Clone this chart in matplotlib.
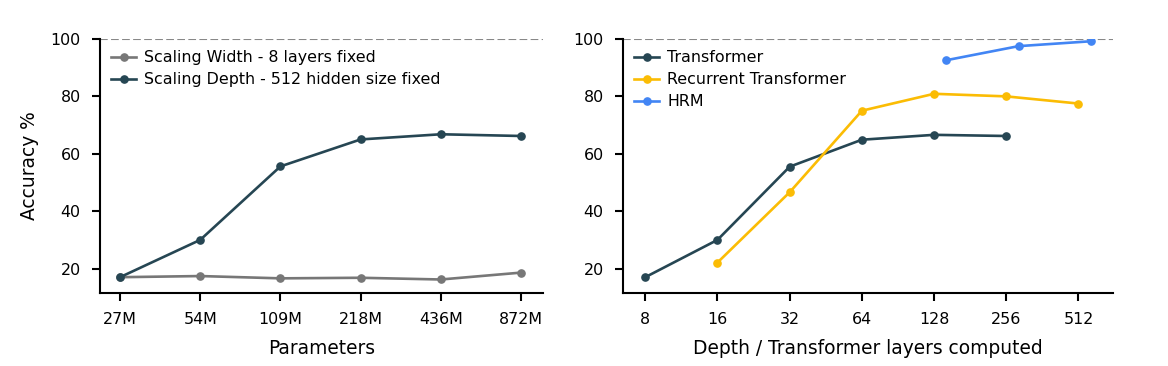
"""
Accuracy vs. parameters (width/depth scaling) and vs. computed depth.
"""

import matplotlib.pyplot as plt
import numpy as np

# left panel
param_labels = ['27M', '54M', '109M', '218M', '436M', '872M']
width_acc = [17.0, 17.4, 16.6, 16.8, 16.2, 18.6]
depth_acc = [17.0, 30.0, 55.6, 65.0, 66.8, 66.2]

# right panel
transformer_depth = [8, 16, 32, 64, 128, 256]
transformer_acc = [17.0, 30.0, 55.5, 64.9, 66.6, 66.2]
recurrent_depth = [16, 32, 64, 128, 256, 512]
recurrent_acc = [22.1, 46.6, 75.0, 80.9, 80.0, 77.5]
hrm_depth = [144, 288, 576]
hrm_acc = [92.6, 97.5, 99.2]
depth_ticks = [8, 16, 32, 64, 128, 256, 512]

DARK = '#264653'
GRAY = '#777777'
YELLOW = '#FBBC04'
BLUE = '#4285F4'

plt.rcParams['font.family'] = 'DejaVu Sans'

fig = plt.figure(figsize=(11.68, 3.66), dpi=100)
ax1 = fig.add_axes([0.0856, 0.1995, 0.379, 0.694])
ax2 = fig.add_axes([0.5334, 0.1995, 0.4195, 0.694])

style = dict(marker='o', markersize=5.2, linewidth=1.9)

x = np.arange(len(param_labels))
ax1.plot(x, width_acc, color=GRAY, label='Scaling Width - 8 layers fixed', **style)
ax1.plot(x, depth_acc, color=DARK, label='Scaling Depth - 512 hidden size fixed', **style)
ax1.set_xticks(x)
ax1.set_xticklabels(param_labels)
ax1.set_xlabel('Parameters', fontsize=13.4, labelpad=8)
ax1.set_ylabel('Accuracy %', fontsize=13.4, labelpad=8)

ax2.plot(transformer_depth, transformer_acc, color=DARK, label='Transformer', **style)
ax2.plot(recurrent_depth, recurrent_acc, color=YELLOW, label='Recurrent Transformer', **style)
ax2.plot(hrm_depth, hrm_acc, color=BLUE, label='HRM', **style)
ax2.set_xscale('log', base=2)
ax2.set_xticks(depth_ticks)
ax2.set_xticklabels([str(d) for d in depth_ticks])
ax2.minorticks_off()
ax2.set_xlabel('Depth / Transformer layers computed', fontsize=13.4, labelpad=8)

for ax in (ax1, ax2):
    ax.axhline(100, color='#888888', linestyle='--', linewidth=1.5, zorder=0)
    ax.set_ylim(11.5, 100)
    ax.set_yticks([20, 40, 60, 80, 100])
    for s in ('top', 'right'):
        ax.spines[s].set_visible(False)
    for s in ('left', 'bottom'):
        ax.spines[s].set_linewidth(1.5)
    ax.tick_params(width=1.5, length=6, pad=8, labelsize=11.4)
    ax.legend(loc='upper left', frameon=False, fontsize=11.4, handlelength=1.6,
              handletextpad=0.5, borderaxespad=0.3, labelspacing=0.45)

ax1.set_xlim(-0.25, 5.27)

fig.savefig('out.png', dpi=100)
